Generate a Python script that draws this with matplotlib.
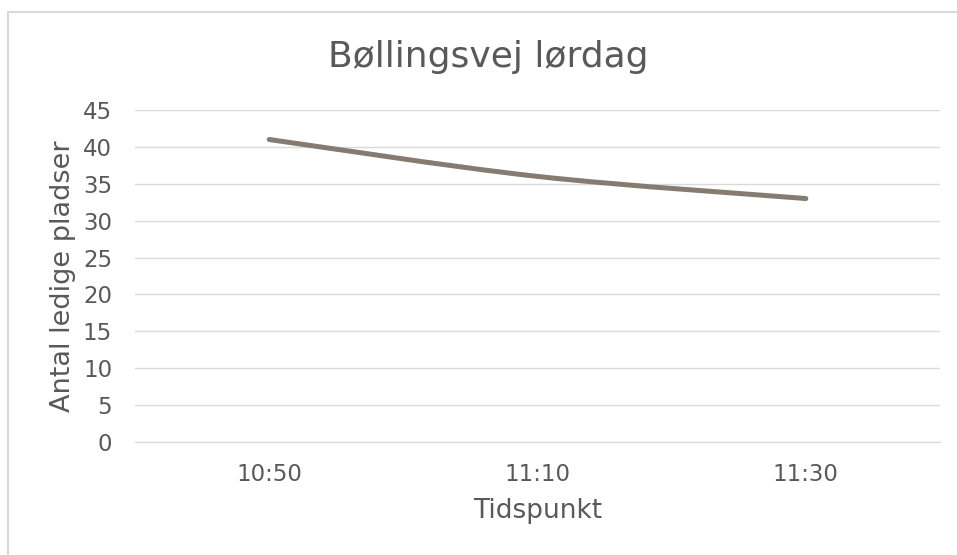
import matplotlib
matplotlib.use("Agg")
from matplotlib import pyplot as plt
from matplotlib.path import Path
import matplotlib.patches as mpatches
import numpy as np

times = ['10:50', '11:10', '11:30']
ledige = [41, 36, 33]

text_color = '#595959'
grid_color = '#d9d9d9'
line_color = '#857b70'

plt.rcParams['font.family'] = ['DejaVu Sans']

W, H = 957, 555
fig = plt.figure(figsize=(W / 100, H / 100), dpi=100)
ax = fig.add_axes([135 / W, 1 - 442 / H, 805 / W, 332 / H])

# outer chart border like the Excel chart frame
frame = mpatches.Rectangle((8 / W, -0.1), 1.2, (H - 12) / H + 0.1,
                           transform=fig.transFigure, fill=False,
                           edgecolor='#d9d9d9', linewidth=1.5)
fig.patches.append(frame)

# smoothed line (bezier through the points, like Excel's smooth line)
x = np.arange(len(ledige), dtype=float)
y = np.array(ledige, dtype=float)
verts = [(x[0], y[0])]
codes = [Path.MOVETO]
for i in range(len(x) - 1):
    p0 = np.array([x[max(i - 1, 0)], y[max(i - 1, 0)]])
    p1 = np.array([x[i], y[i]])
    p2 = np.array([x[i + 1], y[i + 1]])
    p3 = np.array([x[min(i + 2, len(x) - 1)], y[min(i + 2, len(x) - 1)]])
    c1 = p1 + (p2 - p0) / 6
    c2 = p2 - (p3 - p1) / 6
    verts += [tuple(c1), tuple(c2), tuple(p2)]
    codes += [Path.CURVE4] * 3
curve = mpatches.PathPatch(Path(verts, codes), fill=False, edgecolor=line_color,
                           linewidth=3.6, capstyle='round', joinstyle='round', zorder=3)
ax.add_patch(curve)

ax.set_xlim(-0.5, len(times) - 0.5)
ax.set_ylim(0, 45)
ax.set_yticks(np.arange(0, 46, 5))
ax.set_xticks(x)
ax.set_xticklabels(times)

ax.grid(axis='y', color=grid_color, linewidth=1.0)
ax.set_axisbelow(True)
for s in ['top', 'right', 'left']:
    ax.spines[s].set_visible(False)
ax.spines['bottom'].set_color(grid_color)
ax.tick_params(axis='both', length=0, labelsize=16.5, colors=text_color)
ax.tick_params(axis='x', pad=15)
ax.tick_params(axis='y', pad=16.5)

fig.text(488 / W, 1 - 67 / H, 'Bøllingsvej lørdag', fontsize=26, color=text_color,
         ha='center', va='baseline')
ax.set_xlabel('Tidspunkt', fontsize=19, color=text_color, labelpad=9)
ax.set_ylabel('Antal ledige pladser', fontsize=19.5, color=text_color, labelpad=5)

fig.savefig('out.png', dpi=100)
